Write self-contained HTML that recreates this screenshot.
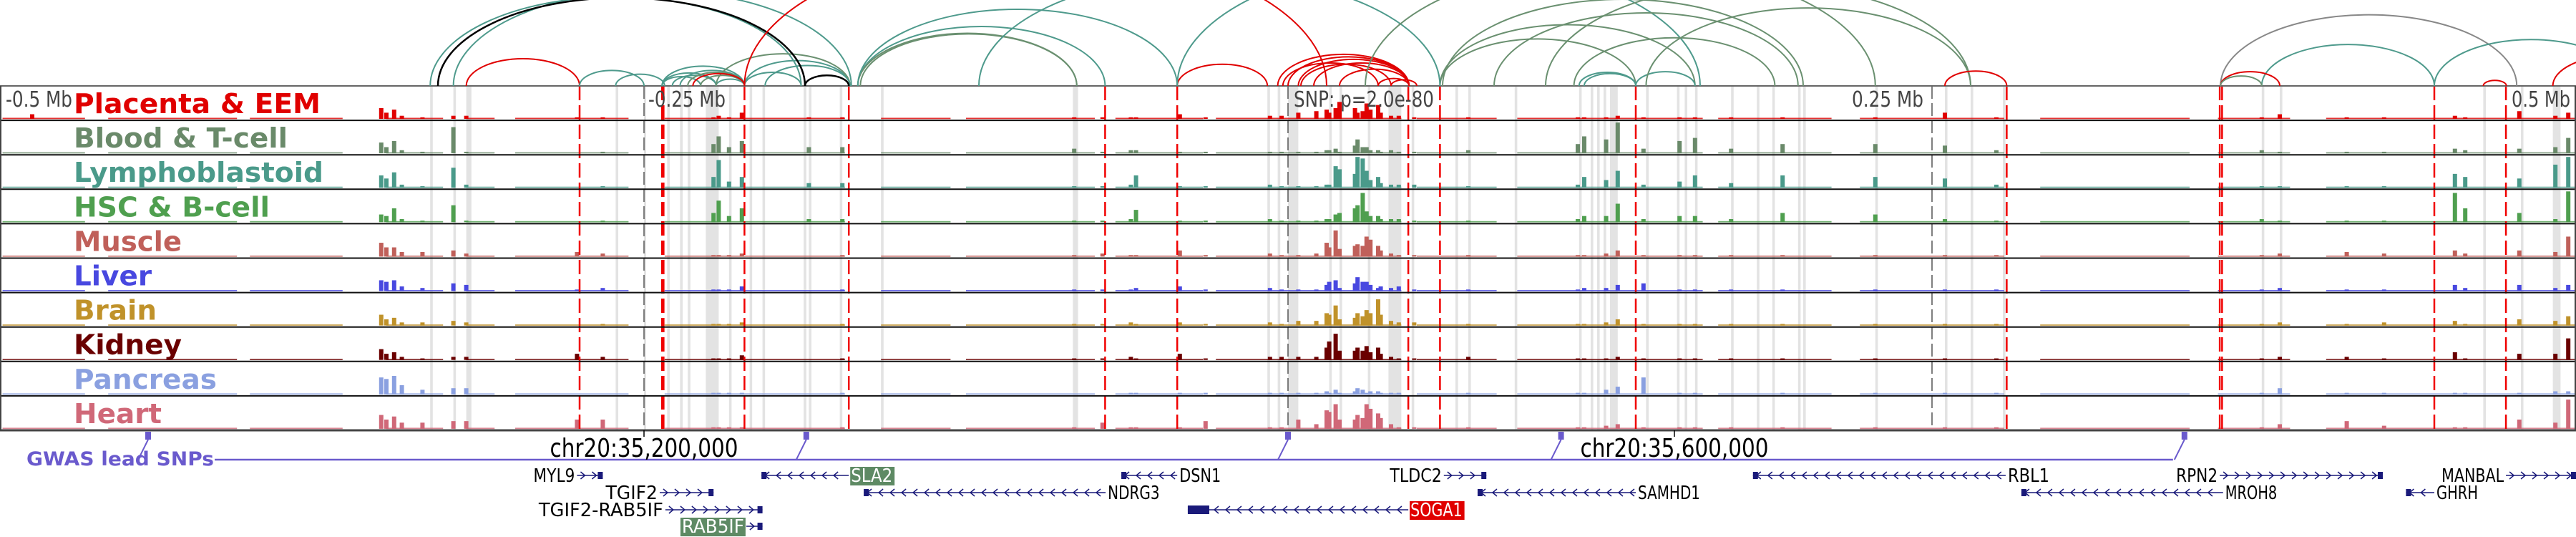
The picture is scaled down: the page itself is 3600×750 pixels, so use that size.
<!DOCTYPE html>
<html><head><meta charset="utf-8"><style>
html,body{margin:0;padding:0;background:#fff;}
svg{display:block;font-family:"DejaVu Sans","Liberation Sans",sans-serif;}
.cond{font-family:"DejaVu Sans Condensed","Liberation Sans Narrow","DejaVu Sans",sans-serif;font-stretch:condensed;}
</style></head><body>
<svg id="chart" width="3600" height="750" viewBox="0 0 3600 750" xmlns="http://www.w3.org/2000/svg">
<defs><clipPath id="arcClip"><rect x="0" y="0" width="3600" height="121"/></clipPath></defs>
<rect x="0" y="0" width="3600" height="750" fill="#fff"/>
<g id="bands"></g>
<g id="tracks"></g>
<g id="vlines"></g>
<g id="frame"></g>
<g id="arcs" clip-path="url(#arcClip)"></g>
<g id="labels"></g>
<g id="gwas"></g>
<g id="genes"></g>
</svg>
<script>
// ---- data ----
const trackNames = ["Placenta & EEM","Blood & T-cell","Lymphoblastoid","HSC & B-cell","Muscle","Liver","Brain","Kidney","Pancreas","Heart"];
const trackColors = ["#e00000","#6a8a6a","#4a9a8a","#4f9f4f","#c0605a","#4848e0","#c0922a","#6a0000","#8aa0e0","#d06878"];
const labelWidths = [345,299,349,274,151,109,116,151,200,123];
const peakKb = [-487.5,-352,-350,-347,-344,-336,-324,-319,-276,-266,-223,-221,-217,-212,-186,-173,-83,-72,-61,-59,-42,-32,-7,-2.5,4,11,15,16,18.5,20,26,27,29,30.5,32,35,36,40,43,49,70,112.5,115,123.5,128,138,152,158,172,192,228,255,275,378,385,411,425.5,453,457,478,492,497];
const placentaVals=[.15,.35,.2,.3,.1,.05,.1,.1,.05,.05,.05,.1,.05,.2,.05,.05,.05,.05,.05,.05,.15,.05,.1,.1,.2,.25,.3,.2,.35,.55,.35,.2,.25,.5,.3,.45,.2,.1,.1,.05,.05,.05,.05,.05,.1,.05,.05,.05,.05,.05,.05,.2,.05,.05,.15,.05,.05,.1,.05,.25,.1,.2];
const bloodVals=[0,.35,.2,.4,.1,.05,.85,.05,0,.05,.3,.55,.2,.4,.2,.2,.15,.05,.1,.1,.05,.05,.05,.05,.05,.05,.1,.1,.15,.05,.25,.45,.2,.2,.1,.1,.05,.1,.05,.05,.1,.3,.55,.45,1.0,.15,.4,.5,.15,.3,.3,.25,.1,.1,.05,.05,.05,.15,.1,.15,.2,.5];
const lymphoVals=[0,.4,.3,.5,.1,.05,.65,.1,0,.05,.35,.9,.2,.35,.15,.15,.05,.05,.1,.4,.05,.05,.1,.05,.05,.05,.1,.1,.7,.6,.45,1.0,.95,.55,.25,.35,.15,.1,.1,.1,.05,.1,.35,.25,.55,.1,.2,.4,.15,.4,.35,.3,.1,.05,.05,.05,.05,.45,.35,.3,.75,1.0];
const hscVals=[0,.25,.2,.45,.1,.05,.55,.05,0,.05,.3,.7,.2,.45,.1,.1,.05,.05,.1,.4,.05,.05,.1,.05,.05,.05,.1,.1,.25,.3,.45,.55,.95,.35,.2,.2,.1,.1,.1,.05,.05,.1,.2,.2,.6,.1,.2,.2,.1,.3,.25,.1,.05,.1,.05,.05,.05,.95,.45,.3,.1,1.0];
const muscleVals=[0,.45,.3,.3,.15,.15,.2,.1,.15,.1,.05,.05,.05,.1,0,.05,.05,.1,.05,.05,.2,.05,.1,.05,.05,.1,.45,.3,.85,.25,.35,.4,.35,.65,.55,.35,.2,.1,.05,.05,.05,.05,.05,.1,.2,.05,.05,.05,.05,.05,.05,.05,.05,.05,.1,.15,.1,.2,.1,.2,.15,.65];
const liverVals=[0,.35,.3,.35,.15,.1,.25,.2,.05,.1,.05,.05,.05,.15,0,.05,.05,.05,.05,.1,.15,.05,.1,.05,.05,.05,.2,.3,.35,.1,.25,.45,.3,.3,.2,.1,.15,.1,.15,.05,.05,.05,.1,.1,.2,.25,.05,.05,.05,.05,.05,.05,.05,.05,.1,.05,.05,.2,.1,.2,.1,.2];
const brainVals=[0,.35,.2,.25,.1,.1,.15,.1,0,.05,.05,.05,.05,.1,0,.05,.05,.05,.1,.05,.1,.05,.1,.05,.15,.15,.4,.35,.65,.2,.25,.4,.3,.5,.4,.85,.35,.15,.1,.1,.05,.05,.05,.1,.2,.05,.05,.05,.05,.05,.05,.05,.05,.05,.1,.05,.1,.15,.05,.2,.15,.3];
const kidneyVals=[0,.35,.2,.25,.1,.05,.1,.1,.2,.1,.05,.05,.05,.15,0,.05,.05,.05,.1,.05,.2,.05,.1,.1,.1,.1,.4,.6,.85,.3,.3,.4,.3,.45,.25,.4,.2,.1,.05,.05,.1,.05,.05,.05,.1,.05,.05,.05,.05,.05,.05,.05,.05,.05,.1,.1,.05,.25,.05,.2,.2,.7];
const pancreasVals=[0,.55,.5,.6,.3,.15,.2,.2,0,0,.05,.05,.05,.05,0,.05,0,0,.05,.05,.05,.05,.05,.05,.05,.05,.1,.05,.15,.05,.1,.2,.15,.05,.1,.1,.05,.05,.05,0,.05,.05,.05,.15,.25,.55,.05,.05,0,.05,.05,.05,.05,.05,.2,.05,.05,.05,.05,.05,.1,.1];
const heartVals=[0,.45,.3,.4,.2,.2,.25,.25,.3,.3,.05,.05,.05,.05,0,.05,.05,.2,.05,.05,.05,.25,.05,.05,.3,.15,.6,.55,.8,.3,.3,.45,.35,.8,.65,.5,.35,.15,.05,.05,.05,.05,.05,.1,.15,.05,.05,.05,.05,.05,.05,.05,.05,.05,.15,.25,.1,.05,.05,.3,.2,.95];
const trackValues=[placentaVals,bloodVals,lymphoVals,hscVals,muscleVals,liverVals,brainVals,kidneyVals,pancreasVals,heartVals];
const bgStartKb=[-499,-458,-403,-350,-319,-300,-242,-158,-125,-67,-28,50,89,167,222,292,361,403];
const bgEndKb=[-467,-408,-367,-328,-308,-256,-172,-131,-75,-33,44,81,161,211,278,350,389,500];
const bandStartKb=[-333,-324,-319,-261,-250,-241,-236,-233,-226,-217,-209,-204,-188,-186,-174,-158,-83.5,-8,-4,0,16,20,31,39,48,65,70,88,113,117.5,120,122.5,125,139,151,154,158,172,182,188,198,200,228,255,265,277.5,378,385,464,478.6,491];
const bandEndKb=[-332,-323,-317,-260,-249.6,-240,-235,-232,-221,-216,-208,-203,-187,-185,-173,-157,-81.5,-7,-3,4,17,21,32,44,49,66,71,89,114,118.5,121,123.5,128,140,152,155,159,173,183,189,199,201,229,256,266,278.5,379,386,465,479.6,494];
const redLineKb=[-275,-243,-242.4,-211,-170.5,-71,-43,46.7,59,135,279,361.7,362.6,445,472.8];
const axisTickKb=[-250,0,250];
const arcStartKb=[-319,-333,-324,-275,-261,-243,-243,-239,-236,-233,-228,-222,-243,-211,-211,-222,-203,-231,-187.5,-330,-211,-167,-167,-166,-167,-43,-4,0,4,10,-2,5,20,35,40,-43,59,59,113,115,135,111,139,-120,60,80,30,100,255,362,378,445,362,362,464,491];
const arcEndKb=[-275,-189,-169.5,-250,-242,-228,-222,-222,-211,-211,-211,-211,-211,-189,-170,-170,-170,-211,-170.5,-187.5,15,-71,-82,-82,-43,-8,47,47,47,47,35,40,47,47,50,160,135,158,135,135,158,189,265,59,200,198,228,265,279,477,445,520,385,378,473,540];
const arcType=[2,0,0,0,0,0,0,0,0,1,1,0,0,0,0,1,0,2,4,4,2,0,1,1,0,2,2,2,2,2,2,2,2,2,2,0,1,1,0,0,0,1,1,0,1,1,1,1,2,3,0,0,2,1,2,2];
const snpKb=[-442.5,-187,0,106,348];
const geneNames=["MYL9","SLA2","DSN1","TLDC2","RBL1","RPN2","MANBAL","TGIF2","NDRG3","SAMHD1","MROH8","GHRH","TGIF2-RAB5IF","SOGA1","RAB5IF"];
const geneStartKb=[-276,-204.4,-64.7,60.5,180.5,361.7,472.8,-243.9,-164.7,73.6,284.7,434,-241.7,-38.9,-210.3];
const geneEndKb=[-266,-170.5,-43,77,278.6,425,500,-223,-70.8,135,363,445,-204,46.7,-204];
const geneRow=[0,0,0,0,0,0,0,1,1,1,1,1,2,2,3];
const geneStrand=["+","-","-","+","-","+","+","+","-","-","-","-","+","-","+"];
const geneLabelSide=["L","R","R","L","R","L","L","L","R","R","R","R","L","R","L"];
const geneHighlight=["","g","","","","","","","","","","","","r","g"];

// ---- axes ----
const W=3600, PANEL_TOP=120, TRACK_H=48.1;
const x=kb=>(kb+500)/1000*W;
const trackTop=i=>PANEL_TOP+i*TRACK_H;
const y=(i,v)=>trackTop(i)+46-v*43;
const NS="http://www.w3.org/2000/svg";
function mk(tag,attrs,parent){const e=document.createElementNS(NS,tag);for(const k in attrs)e.setAttribute(k,attrs[k]);parent.appendChild(e);return e;}
const gB=document.getElementById('bands'),gT=document.getElementById('tracks'),gV=document.getElementById('vlines'),gF=document.getElementById('frame'),gA=document.getElementById('arcs'),gL=document.getElementById('labels'),gG=document.getElementById('gwas'),gN=document.getElementById('genes');

bandStartKb.forEach((s,j)=>{
  const r=mk('rect',{x:x(s),y:PANEL_TOP,width:Math.max(3,x(bandEndKb[j])-x(s)),height:TRACK_H*10,fill:'#e3e3e3'},gB);
  
  
});
trackNames.forEach((n,i)=>{
  const g=mk('g',{},gT);
  
  
  bgStartKb.forEach((s,j)=>{
    const r=mk('rect',{x:x(s),y:trackTop(i)+44.5,width:x(bgEndKb[j])-x(s),height:1.8,fill:trackColors[i],opacity:0.8},g);
    
    
  });
  trackValues[i].forEach((v,j)=>{
    if(v<=0)return;
    const yy=y(i,v);
    const r=mk('rect',{x:x(peakKb[j])-3,y:yy,width:6,height:trackTop(i)+46-yy,fill:trackColors[i]},g);
    
    
  });
});
axisTickKb.forEach(k=>{
  const l=mk('line',{x1:x(k),x2:x(k),y1:PANEL_TOP,y2:PANEL_TOP+TRACK_H*10,stroke:'#555','stroke-width':1.5,'stroke-dasharray':'18 6'},gV);
  
  
});
redLineKb.forEach(k=>{
  const l=mk('line',{x1:x(k),x2:x(k),y1:PANEL_TOP,y2:PANEL_TOP+TRACK_H*10,stroke:'#f00000','stroke-width':2.5,'stroke-dasharray':'20 7'},gV);
  
  
});
for(let i=1;i<10;i++){const l=mk('line',{x1:0,x2:W,y1:trackTop(i),y2:trackTop(i),stroke:'#111','stroke-width':2},gF);
  
  }
const panelTopLine=mk('line',{x1:0,x2:W,y1:PANEL_TOP,y2:PANEL_TOP,stroke:'#666','stroke-width':2},gF);


const panelBotLine=mk('line',{x1:0,x2:W,y1:PANEL_TOP+TRACK_H*10,y2:PANEL_TOP+TRACK_H*10,stroke:'#444','stroke-width':3},gF);


const panelLeftLine=mk('line',{x1:1,x2:1,y1:PANEL_TOP,y2:PANEL_TOP+TRACK_H*10,stroke:'#444','stroke-width':2},gF);


const panelRightLine=mk('line',{x1:W-1,x2:W-1,y1:PANEL_TOP,y2:PANEL_TOP+TRACK_H*10,stroke:'#444','stroke-width':2},gF);


const axL=[["-0.5 Mb",8,'start',93],["-0.25 Mb",x(-250)+6,'start',108],["SNP: p=2.0e-80",x(0)+8,'start',196],["0.25 Mb",x(250)-12,'end',100],["0.5 Mb",W-8,'end',82]];
axL.forEach(a=>{const t=mk('text',{x:a[1],y:149,'font-size':30,fill:'#444','text-anchor':a[2],class:'cond',textLength:a[3],lengthAdjust:'spacingAndGlyphs'},gF);t.textContent=a[0];
  
  });
const arcColors=["#4e9a8c","#6a9070","#e00000","#888888","#000000"];
arcStartKb.forEach((s,j)=>{
  const x1=x(s),x2=x(arcEndKb[j]),rx=(x2-x1)/2,ry=rx*0.48;
  const p=mk('path',{d:`M${x1},${PANEL_TOP} A${rx},${ry} 0 0 1 ${x2},${PANEL_TOP}`,fill:'none',stroke:arcColors[arcType[j]],'stroke-width':arcType[j]===4?2.5:2},gA);
  
  
});
trackNames.forEach((n,i)=>{
  const t=mk('text',{x:103,y:trackTop(i)+38,'font-size':38,'font-weight':'bold',fill:trackColors[i],textLength:labelWidths[i],lengthAdjust:'spacingAndGlyphs'},gL);
  t.textContent=n;
  
  
});
const gl=mk('text',{x:37,y:650,'font-size':27,'font-weight':'bold',fill:'#6a5acd',textLength:262,lengthAdjust:'spacingAndGlyphs'},gG);
gl.textContent="GWAS lead SNPs";


const gline=mk('line',{x1:300,x2:x(snpKb[snpKb.length-1])-16,y1:642,y2:642,stroke:'#6a5acd','stroke-width':2.5},gG);


snpKb.forEach(k=>{
  const xx=x(k);
  const r=mk('rect',{x:xx-4,y:603,width:8,height:11,fill:'#6a5acd'},gG);
  
  
  const l=mk('line',{x1:xx,y1:614,x2:xx-14,y2:642,stroke:'#6a5acd','stroke-width':2},gG);
  
  
});
[[35200000,-250],[35600000,150]].forEach(c=>{
  const xx=x(c[1]);
  const tk=mk('line',{x1:xx,x2:xx,y1:601,y2:610,stroke:'#000','stroke-width':1.5},gN);
  
  
  const t=mk('text',{x:xx,y:638,'font-size':36,'text-anchor':'middle',fill:'#000',class:'cond',textLength:263,lengthAdjust:'spacingAndGlyphs'},gN);
  t.textContent="chr20:"+c[0].toLocaleString('en-US');
  
  
});
const rowY=[664,688,712,735];
geneNames.forEach((n,j)=>{
  const g=mk('g',{},gN);
  
  
  const x1=x(geneStartKb[j]),x2=x(geneEndKb[j]),yy=rowY[geneRow[j]];
  mk('line',{x1:x1,x2:x2,y1:yy,y2:yy,stroke:'#1a1a7a','stroke-width':1.6},g);
  for(let cx=x1+8;cx<x2-4;cx+=16){
    const d=geneStrand[j]==='+'?`M${cx-3},${yy-5} L${cx+3},${yy} L${cx-3},${yy+5}`:`M${cx+3},${yy-5} L${cx-3},${yy} L${cx+3},${yy+5}`;
    mk('path',{d:d,fill:'none',stroke:'#1a1a7a','stroke-width':1.5},g);
  }
  const ex=geneStrand[j]==='+'?x2-7:x1;
  mk('rect',{x:ex,y:yy-5,width:7,height:10,fill:'#1a1a7a'},g);
  if(n==="SOGA1") mk('rect',{x:x1,y:yy-6,width:30,height:12,fill:'#1a1a7a'},g);
  const left=geneLabelSide[j]==='L';
  const tx=left?x1-3:x2+3;
  const hl=geneHighlight[j];
  const est=n.length*14.5;
  if(hl){mk('rect',{x:left?tx-est-2:tx-1,y:yy-12,width:est+4,height:26,fill:hl==='g'?'#5e8a64':'#e00000'},g);}
  const t=mk('text',{x:tx,y:yy+9,'font-size':26,'text-anchor':left?'end':'start',fill:hl?'#fff':'#000',class:'cond',textLength:est,lengthAdjust:'spacingAndGlyphs'},g);
  t.textContent=n;
});
</script>
</body></html>
